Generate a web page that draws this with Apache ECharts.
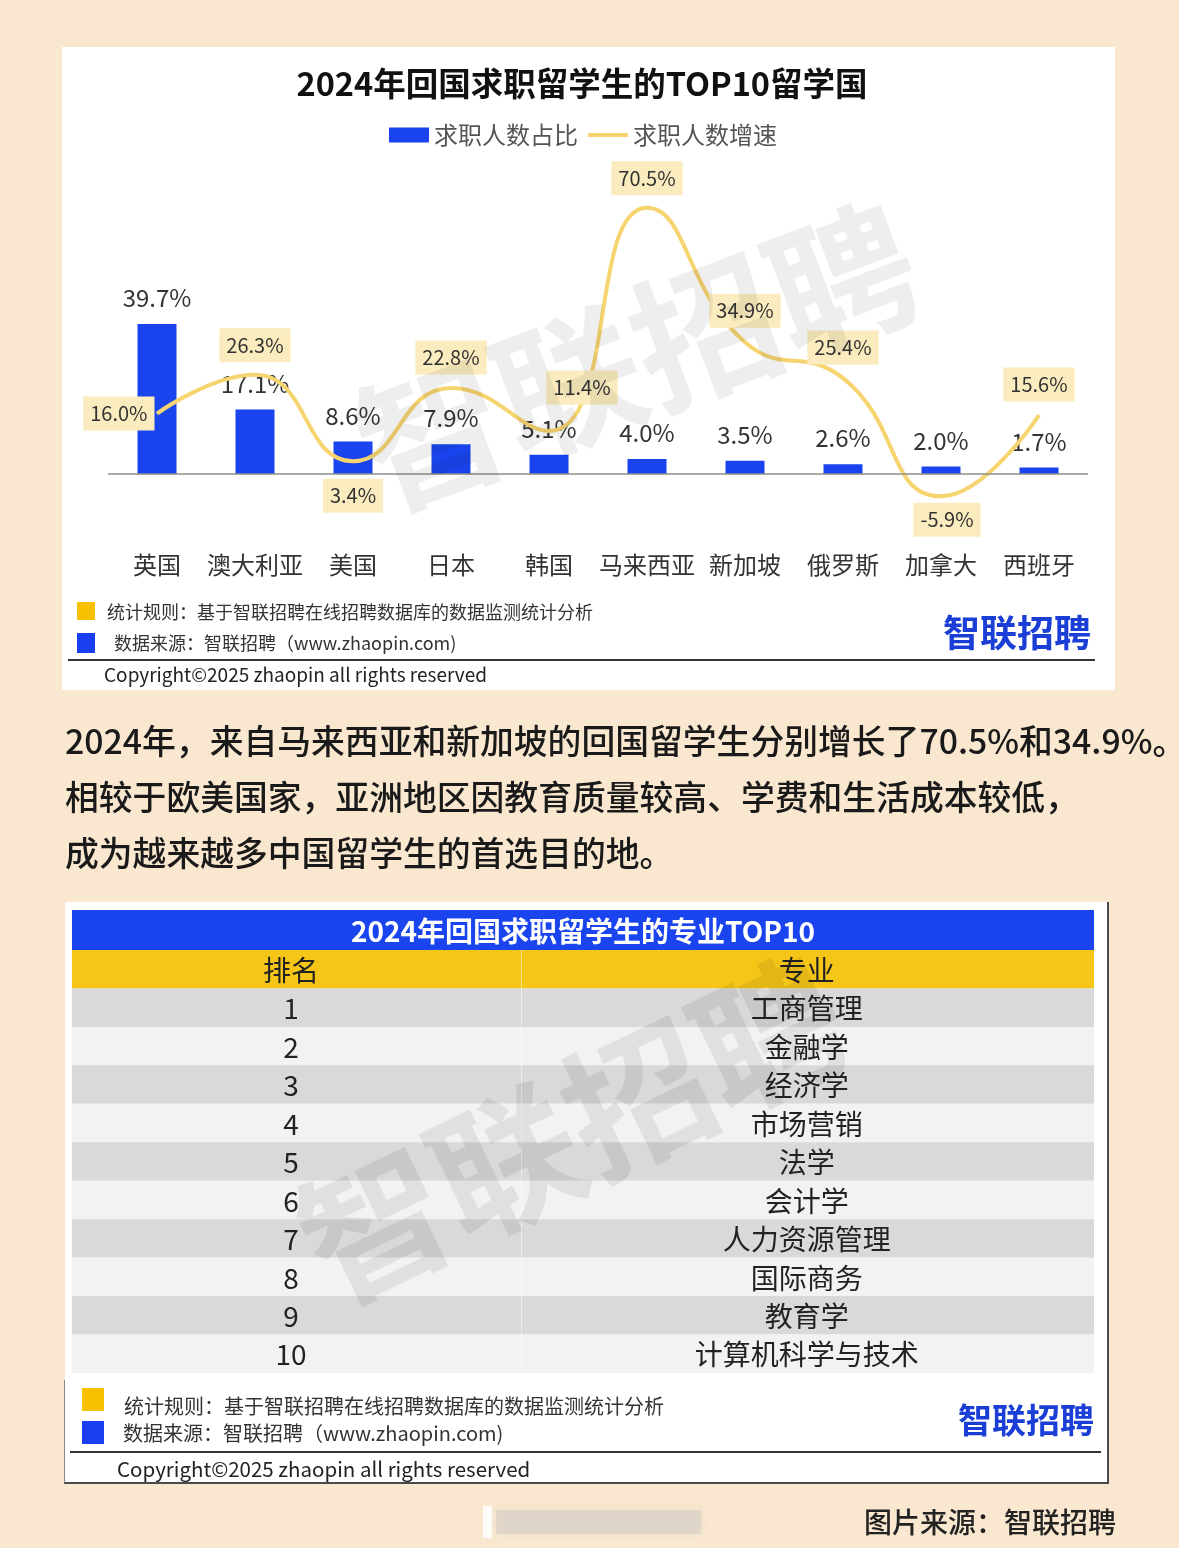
<!DOCTYPE html>
<html><head><meta charset="utf-8">
<script src="https://cdn.jsdelivr.net/npm/echarts/dist/echarts.min.js"></script>
<style>html,body{margin:0;padding:0;background:#f9e8cf;}#c{width:1179px;height:1548px;}</style>
</head><body><div id="c"></div>
<script>
// ---- data ----
const categories = ['英国','澳大利亚','美国','日本','韩国','马来西亚','新加坡','俄罗斯','加拿大','西班牙'];
const shareValues = [39.7, 17.1, 8.6, 7.9, 5.1, 4.0, 3.5, 2.6, 2.0, 1.7];
const growthValues = [16.0, 26.3, 3.4, 22.8, 11.4, 70.5, 34.9, 25.4, -5.9, 15.6];
const seriesNames = ['求职人数占比', '求职人数增速'];
const chartTitle = '2024年回国求职留学生的TOP10留学国';
const tableTitle = '2024年回国求职留学生的专业TOP10';
const tableHeader = ['排名', '专业'];
const ranks = ['1','2','3','4','5','6','7','8','9','10'];
const majors = ['工商管理','金融学','经济学','市场营销','法学','会计学','人力资源管理','国际商务','教育学','计算机科学与技术'];
const paragraph = [
  '2024年，来自马来西亚和新加坡的回国留学生分别增长了70.5%和34.9%。',
  '相较于欧美国家，亚洲地区因教育质量较高、学费和生活成本较低，',
  '成为越来越多中国留学生的首选目的地。'
];
const noteRule = '统计规则：基于智联招聘在线招聘数据库的数据监测统计分析';
const noteSource = '数据来源：智联招聘（www.zhaopin.com)';
const copyright = 'Copyright©2025 zhaopin all rights reserved';
const brand = '智联招聘';
const imgSource = '图片来源：智联招聘';

// ---- style ----
const F = '"Noto Sans CJK SC","Noto Sans",sans-serif';
const BLUE = '#1a45ee';
const GOLD = '#f6d46f';
// label placement for growth labels: [position, distance, offsetX]
const growthLabelPlace = [
  ['left',2,0],['top',12,0],['bottom',17,0],['top',13,0],['top',26,33],
  ['top',12,0],['top',14,0],['top',13,0],['bottom',6,6],['top',13,0]
];

function txt(x, y, text, font, fill, align, z) {
  return { type:'text', x:x, y:y, z: z||10,
    style:{ text:text, font:font, fill:fill, align:align||'left', verticalAlign:'middle',
      textAlign:align||'left', textVerticalAlign:'middle' } };
}
function rect(x, y, w, h, fill, z) {
  return { type:'rect', z: z||0, shape:{x:x,y:y,width:w,height:h}, style:{fill:fill} };
}

const graphics = [
  // top card
  rect(62, 47, 1053, 643, '#ffffff', 0),
  // footer of top card
  rect(77, 602, 18, 18, '#f8c100', 5),
  txt(107, 612, noteRule, '18px ' + F, '#333', 'left'),
  rect(77, 633, 18, 20, '#1a3ff0', 5),
  txt(114, 643, noteSource, '18px ' + F, '#333', 'left'),
  txt(1091, 633, brand, 'bold 37px ' + F, '#1b3fd6', 'right'),
  rect(68, 659, 1027, 2, '#333', 5),
  txt(104, 675, copyright, '19px ' + F, '#222', 'left'),
  // watermark top
  { type:'text', x:637, y:357, rotation:0.36, z:50,
    style:{ text:brand, font:'bold 146px ' + F, fill:'rgba(0,0,0,0.065)', align:'center', verticalAlign:'middle', textAlign:'center', textVerticalAlign:'middle' } },
  // paragraph
  txt(65, 741, paragraph[0], '500 33.8px ' + F, '#1a1a1a', 'left'),
  txt(65, 797, paragraph[1], '500 33.8px ' + F, '#1a1a1a', 'left'),
  txt(65, 853, paragraph[2], '500 33.8px ' + F, '#1a1a1a', 'left'),
  // table card
  rect(65, 902, 1043, 581, '#ffffff', 0),
  rect(1107, 902, 2, 582, '#4a4a4a', 1),
  rect(64, 1482, 1045, 2, '#4a4a4a', 1),
  rect(64, 1380, 1, 103, '#888', 1),
  rect(72, 910, 1022, 40, BLUE, 1),
  txt(583, 931, tableTitle, 'bold 28px ' + F, '#ffffff', 'center'),
  rect(82, 1388, 22, 23, '#f8c100', 5),
  txt(124, 1406, noteRule, '20px ' + F, '#333', 'left'),
  rect(82, 1421, 22, 23, '#1a3ff0', 5),
  txt(123, 1433, noteSource, '20px ' + F, '#333', 'left'),
  txt(1094, 1420, brand, 'bold 34px ' + F, '#1b3fd6', 'right'),
  rect(70, 1451, 1031, 2, '#333', 5),
  txt(117, 1469, copyright, '20.5px ' + F, '#222', 'left'),
  // watermark table
  { type:'text', x:572, y:1130, rotation:0.45, z:50,
    style:{ text:brand, font:'bold 146px ' + F, fill:'rgba(0,0,0,0.075)', align:'center', verticalAlign:'middle', textAlign:'center', textVerticalAlign:'middle' } },
  // blurred smudge + image source
  { type:'rect', z:3, shape:{x:496,y:1510,width:205,height:24}, style:{fill:'rgba(205,200,195,0.45)', shadowBlur:8, shadowColor:'rgba(205,200,195,0.6)'} },
  rect(483, 1506, 9, 32, 'rgba(255,255,255,0.85)', 4),
  txt(1116, 1522, imgSource, '500 28px ' + F, '#222', 'right')
];

const growthData = growthValues.map(function(v, i){
  const p = growthLabelPlace[i];
  return { value: v, label: { position: p[0], distance: p[1], offset: [p[2], 0] } };
});

const tableData = [];
for (let i = 0; i <= ranks.length; i++) tableData.push([0, i]);

const chart = echarts.init(document.getElementById('c'), null, {renderer:'canvas'});
chart.setOption({
  animation: false,
  backgroundColor: '#f9e8cf',
  title: { text: chartTitle, left: 577, top: 62, textAlign: 'center',
    textStyle: { fontFamily: F, fontSize: 32.5, fontWeight: 'bold', color: '#111' } },
  legend: { left: 384, top: 118, itemWidth: 40, itemHeight: 15, itemGap: 10,
    textStyle: { fontFamily: F, fontSize: 24, color: '#555' },
    data: [
      { name: seriesNames[0], icon: 'rect' },
      { name: seriesNames[1], icon: 'path://M0,0 L40,0 L40,4 L0,4 Z', itemStyle: { color: GOLD } }
    ] },
  graphic: { elements: graphics },
  grid: [
    { left: 108, top: 171.8, width: 980, height: 377.8, outerBoundsMode: 'none', containLabel: false },
    { left: 72, top: 950, width: 1022, height: 423, outerBoundsMode: 'none', containLabel: false }
  ],
  xAxis: [
    { type: 'category', gridIndex: 0, data: categories, boundaryGap: true,
      axisLine: { show: false, onZero: false },
      axisTick: { show: false },
      axisLabel: { interval: 0, margin: 3.5, fontFamily: F, fontSize: 24, color: '#333' },
      splitLine: { show: false } },
    { type: 'value', gridIndex: 1, min: 0, max: 1, show: false }
  ],
  yAxis: [
    { type: 'value', gridIndex: 0, min: -20, max: 80, show: false, splitLine: { show: false } },
    { type: 'category', gridIndex: 1, data: [tableHeader[0]].concat(ranks), inverse: true, show: false }
  ],
  series: [
    { name: seriesNames[0], type: 'bar', xAxisIndex: 0, yAxisIndex: 0, data: shareValues,
      barWidth: 39, itemStyle: { color: BLUE }, silent: true, z: 2,
      label: { show: true, position: 'top', distance: 14, fontFamily: F, fontSize: 24, color: '#333',
        formatter: function(p){ return p.value.toFixed(1) + '%'; } },
      markLine: { silent: true, symbol: 'none', label: { show: false },
        lineStyle: { color: '#8c8c8c', width: 1.5, type: 'solid' },
        data: [{ yAxis: 0 }] } },
    { name: seriesNames[1], type: 'line', xAxisIndex: 0, yAxisIndex: 0, data: growthData,
      smooth: true, symbol: 'circle', symbolSize: 1, showSymbol: true, silent: true, z: 3,
      lineStyle: { color: GOLD, width: 4 }, itemStyle: { color: 'rgba(0,0,0,0)' },
      label: { show: true, fontFamily: F, fontSize: 20, color: '#333', backgroundColor: '#faecbe',
        padding: [7, 7, 7, 7],
        formatter: function(p){ return p.value.toFixed(1) + '%'; } } },
    { type: 'custom', xAxisIndex: 1, yAxisIndex: 1, data: tableData, silent: true, z: 2,
      encode: { x: 0, y: 1 },
      renderItem: function(params, api) {
        const i = api.value(1);
        const L = api.coord([0, i]);
        const R = api.coord([1, i]);
        const h = api.size([1, 1])[1];
        const w = R[0] - L[0];
        const top = L[1] - h / 2;
        const fill = i === 0 ? '#f5c518' : (i % 2 === 1 ? '#d9d9d9' : '#f2f2f2');
        const t = i === 0 ? tableHeader : [ranks[i - 1], majors[i - 1]];
        const ts = function(text, x) {
          return { type: 'text', style: { text: text, x: x, y: L[1] + 1, font: '28px ' + F, fill: '#222',
            align: 'center', verticalAlign: 'middle', textAlign: 'center', textVerticalAlign: 'middle' } };
        };
        return { type: 'group', children: [
          { type: 'rect', shape: { x: L[0], y: top, width: w, height: h }, style: { fill: fill } },
          { type: 'rect', shape: { x: L[0] + w * 0.4393, y: top, width: 1, height: h }, style: { fill: 'rgba(255,255,255,0.5)' } },
          ts(t[0], L[0] + w * 0.2143),
          ts(t[1], L[0] + w * 0.719)
        ] };
      } }
  ]
});
</script></body></html>
